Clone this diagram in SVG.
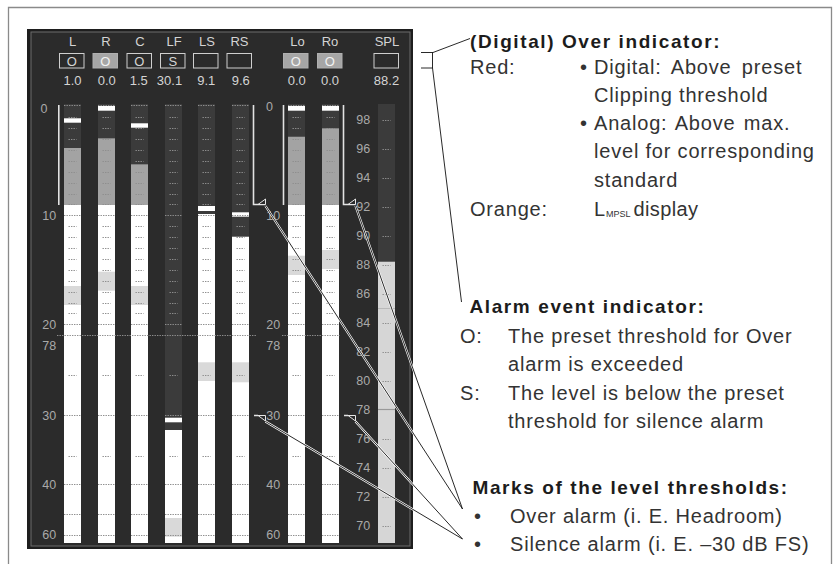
<svg xmlns="http://www.w3.org/2000/svg" width="839" height="564" viewBox="0 0 839 564">
<style>
.pt{font-family:"Liberation Sans",Arial,sans-serif;font-size:13px;fill:#d4d4d4;text-anchor:middle}
.sc{font-family:"Liberation Sans",Arial,sans-serif;font-size:12.5px;fill:#a9a9a9;text-anchor:middle}
.box{fill:none;stroke:#cfcfcf;stroke-width:1}
.boxf{fill:#a6a6a6;stroke:#b0b0b0;stroke-width:1}
.bxt{fill:#f2f2f2}
.dk{fill:#3b3b3b}
.gy{fill:#a3a3a3}
.wh{fill:#ffffff}
.hl{fill:#d9d9d9}
.sp{fill:#d6d6d6}
.tk{fill:none;stroke:#8e8e8e;stroke-width:1;stroke-dasharray:1.4 1.1}
.br{fill:none;stroke:#e2e2e2;stroke-width:1.6}
.mk{fill:#2b2b2b;stroke:#e6e6e6;stroke-width:1}
.lk{fill:none;stroke:#111;stroke-width:0.9}
.halo{fill:none;stroke:#ffffff;stroke-width:2.2}
.hd{font-family:"Liberation Sans",Arial,sans-serif;font-size:19px;font-weight:bold;fill:#1c1c1c;letter-spacing:1.6px}
.bd{font-family:"Liberation Sans",Arial,sans-serif;font-size:20px;fill:#333;letter-spacing:0.8px}
</style>
<defs>
<g id="tk">
<path class="tk" d="M0,105.5h17M0,215.5h17M0,324.5h17M0,415.5h17M0,484.5h17M0,514.5h17M0,535.5h17"/>
<path class="tk" d="M4.5,117.5h8M4.5,128.5h8M4.5,139.5h8M4.5,150.5h8M4.5,161.5h8M4.5,172.5h8M4.5,183.5h8M4.5,194.5h8M4.5,204.5h8M4.5,226.5h8M4.5,237.5h8M4.5,248.5h8M4.5,259.5h8M4.5,270.5h8M4.5,281.5h8M4.5,292.5h8M4.5,303.5h8M4.5,313.5h8M4.5,375.5h8M4.5,456.5h8"/>
</g>
</defs>

<path id="frame" d="M8.5,564V7.5H831.5V564" fill="none" stroke="#8a8a8a" stroke-width="1.3"/>

<g id="panel">
<rect x="27" y="29" width="386" height="520" fill="#1e1e1e"/>
<rect x="31" y="32" width="379" height="514" fill="#2b2b2b" stroke="#6c6c6c" stroke-width="1"/>
<g id="scale-left">
<text class="sc" x="44" y="113">0</text>
<text class="sc" x="49.3" y="220">10</text>
<text class="sc" x="49.3" y="329">20</text>
<text class="sc" x="49.3" y="350">78</text>
<text class="sc" x="49.3" y="420">30</text>
<text class="sc" x="49.3" y="488.5">40</text>
<text class="sc" x="49.3" y="539">60</text>
</g>
<g id="scale-mid">
<text class="sc" x="269.5" y="111">0</text>
<text class="sc" x="273.3" y="220">10</text>
<text class="sc" x="273.3" y="329">20</text>
<text class="sc" x="273.3" y="350">78</text>
<text class="sc" x="273.3" y="420">30</text>
<text class="sc" x="273.3" y="488.5">40</text>
<text class="sc" x="273.3" y="539">60</text>
</g>
<g id="scale-spl">
<text class="sc" x="363.3" y="124">98</text>
<text class="sc" x="363.3" y="153">96</text>
<text class="sc" x="363.3" y="182">94</text>
<text class="sc" x="363.3" y="211">92</text>
<text class="sc" x="363.3" y="240">90</text>
<text class="sc" x="363.3" y="269">88</text>
<text class="sc" x="363.3" y="298">86</text>
<text class="sc" x="363.3" y="327">84</text>
<text class="sc" x="363.3" y="356">82</text>
<text class="sc" x="363.3" y="385">80</text>
<text class="sc" x="363.3" y="414">78</text>
<text class="sc" x="363.3" y="443">76</text>
<text class="sc" x="363.3" y="472">74</text>
<text class="sc" x="363.3" y="501">72</text>
<text class="sc" x="363.3" y="530">70</text>
</g>
</g>

<g id="ch-L">
<text class="pt" x="72.5" y="46">L</text>
<rect class="box" x="59.5" y="53.5" width="24.5" height="14.5"/>
<text class="pt" x="71.8" y="65.5">O</text>
<text class="pt" x="72.5" y="85">1.0</text>
<rect class="dk" x="64" y="104" width="17" height="44"/>
<rect class="gy" x="64" y="148" width="17" height="57"/>
<rect class="wh" x="64" y="205" width="17" height="338"/>
<rect class="hl" x="64" y="286" width="17" height="19"/>
<rect class="wh" x="64" y="118.3" width="17" height="4.4"/>
<use href="#tk" x="64"/>
</g>

<g id="ch-R">
<text class="pt" x="106" y="46">R</text>
<rect class="boxf" x="93" y="53.5" width="24.5" height="14.5"/>
<text class="pt bxt" x="105.3" y="65.5">O</text>
<text class="pt" x="106.8" y="85">0.0</text>
<rect class="dk" x="98" y="104" width="17" height="34.3"/>
<rect class="gy" x="98" y="138.3" width="17" height="66.7"/>
<rect class="wh" x="98" y="205" width="17" height="338"/>
<rect class="hl" x="98" y="271.7" width="17" height="19"/>
<rect class="wh" x="98" y="106" width="17" height="4.7"/>
<use href="#tk" x="98"/>
</g>

<g id="ch-C">
<text class="pt" x="140" y="46">C</text>
<rect class="box" x="127" y="53.5" width="24.5" height="14.5"/>
<text class="pt" x="139.3" y="65.5">O</text>
<text class="pt" x="138.8" y="85">1.5</text>
<rect class="dk" x="131" y="104" width="17" height="60.3"/>
<rect class="gy" x="131" y="164.3" width="17" height="40.7"/>
<rect class="wh" x="131" y="205" width="17" height="338"/>
<rect class="hl" x="131" y="286" width="17" height="19"/>
<rect class="wh" x="131" y="123.3" width="17" height="4.4"/>
<use href="#tk" x="131"/>
</g>

<g id="ch-LF">
<text class="pt" x="174" y="46">LF</text>
<rect class="box" x="160.5" y="53.5" width="24.5" height="14.5"/>
<text class="pt" x="172.8" y="65.5">S</text>
<text class="pt" x="169.5" y="85">30.1</text>
<rect class="dk" x="165" y="104" width="17" height="326"/>
<rect class="wh" x="165" y="430" width="17" height="113"/>
<rect class="hl" x="165" y="518" width="17" height="18.7"/>
<rect class="wh" x="165" y="417.7" width="17" height="4.6"/>
<use href="#tk" x="165"/>
</g>

<g id="ch-LS">
<text class="pt" x="207" y="46">LS</text>
<rect class="box" x="193.5" y="53.5" width="24.5" height="14.5"/>
<text class="pt" x="206.3" y="85">9.1</text>
<rect class="dk" x="198" y="104" width="17" height="110"/>
<rect class="wh" x="198" y="214" width="17" height="329"/>
<rect class="hl" x="198" y="362.3" width="17" height="18.7"/>
<rect class="wh" x="198" y="206" width="17" height="5"/>
<use href="#tk" x="198"/>
</g>

<g id="ch-RS">
<text class="pt" x="239.5" y="46">RS</text>
<rect class="box" x="227" y="53.5" width="24.5" height="14.5"/>
<text class="pt" x="240.8" y="85">9.6</text>
<rect class="dk" x="232" y="104" width="17" height="132.7"/>
<rect class="wh" x="232" y="236.7" width="17" height="306.3"/>
<rect class="hl" x="232" y="362.3" width="17" height="20"/>
<rect class="wh" x="232" y="212.3" width="17" height="4.4"/>
<use href="#tk" x="232"/>
</g>

<g id="ch-Lo">
<text class="pt" x="297.5" y="46">Lo</text>
<rect class="boxf" x="283.5" y="53.5" width="24.5" height="14.5"/>
<text class="pt bxt" x="295.8" y="65.5">O</text>
<text class="pt" x="296.8" y="85">0.0</text>
<rect class="dk" x="288" y="104" width="17" height="32.7"/>
<rect class="gy" x="288" y="136.7" width="17" height="68.3"/>
<rect class="wh" x="288" y="205" width="17" height="338"/>
<rect class="hl" x="288" y="255.7" width="17" height="19.3"/>
<rect class="wh" x="288" y="106" width="17" height="4.7"/>
<use href="#tk" x="288"/>
</g>

<g id="ch-Ro">
<text class="pt" x="330" y="46">Ro</text>
<rect class="boxf" x="317.5" y="53.5" width="24.5" height="14.5"/>
<text class="pt bxt" x="329.8" y="65.5">O</text>
<text class="pt" x="330" y="85">0.0</text>
<rect class="dk" x="322" y="104" width="17" height="24.3"/>
<rect class="gy" x="322" y="128.3" width="17" height="76.7"/>
<rect class="wh" x="322" y="205" width="17" height="338"/>
<rect class="hl" x="322" y="250" width="17" height="19"/>
<rect class="wh" x="322" y="106" width="17" height="4.7"/>
<use href="#tk" x="322"/>
</g>

<g id="ch-SPL">
<text class="pt" x="387" y="46">SPL</text>
<rect class="box" x="374" y="53.5" width="24.5" height="14.5"/>
<text class="pt" x="386.5" y="85">88.2</text>
<rect class="dk" x="378" y="104" width="17" height="157.7"/>
<rect class="sp" x="378" y="261.7" width="17" height="281.3"/>
<path d="M378,308.5h17" stroke="#b9b9b9" stroke-width="1"/>
<path d="M378,409.5h17" stroke="#999" stroke-width="1.2"/>
<path class="tk" d="M382.5,120.5h8M382.5,149.5h8M382.5,178.5h8M382.5,207.5h8M382.5,236.5h8M382.5,265.5h8M382.5,294.5h8M382.5,323.5h8M382.5,352.5h8M382.5,381.5h8M382.5,439.5h8M382.5,468.5h8M382.5,497.5h8M382.5,526.5h8"/>
</g>

<g id="thresholds">
<path class="tk" d="M57,335.5H256M282,335.5H340"/>
<path class="br" d="M58.8,105V205M253.5,105V204.5H265.5M283.5,105V205M343.5,105V204.5H355.5"/>
<polygon class="mk" points="258,204.5 265.5,204.5 265.5,199"/>
<polygon class="mk" points="348,204.5 355.5,204.5 355.5,199"/>
<path class="br" d="M254,415.5H258M344,415.5H348" stroke-width="1"/>
<polygon class="mk" points="258,415.5 265.5,415.5 265.5,421"/>
<polygon class="mk" points="348,415.5 355.5,415.5 355.5,421"/>
</g>

<g id="connectors">
<path class="halo" d="M265.5,206L462.5,509M355.5,206L462.5,509M265.5,421.5L462.5,539M355.5,421.5L462.5,539"/>
<path class="lk" d="M265.5,206L462.5,509M355.5,206L462.5,509M265.5,421.5L462.5,539M355.5,421.5L462.5,539"/>
<path class="lk" d="M421,52.5H433M432.5,52.5V68M421,68H432.5M433,52.5L470,38.5M432.5,68L461.5,302"/>
</g>

<g id="over-indicator">
<text class="hd" x="470" y="47.5">(Digital) Over indicator:</text>
<text class="bd" x="470" y="73.5">Red:</text>
<text class="bd" x="580" y="73.5">•</text>
<text class="bd" x="594" y="73.5" letter-spacing="1.3" word-spacing="4">Digital: Above preset</text>
<text class="bd" x="594" y="101.8">Clipping threshold</text>
<text class="bd" x="580" y="130">•</text>
<text class="bd" x="594" y="130" word-spacing="2">Analog: Above max.</text>
<text class="bd" x="594" y="158.3">level for corresponding</text>
<text class="bd" x="594" y="186.7">standard</text>
<text class="bd" x="470" y="216">Orange:</text>
<text class="bd" x="594" y="216">L<tspan font-size="9" letter-spacing="0" dy="1">MPSL</tspan><tspan dx="3" dy="-1" letter-spacing="0.4">display</tspan></text>
</g>

<g id="alarm-event">
<text class="hd" x="469.5" y="312.5">Alarm event indicator:</text>
<text class="bd" x="460" y="342.5">O:</text>
<text class="bd" x="508" y="342.5">The preset threshold for Over</text>
<text class="bd" x="508" y="371">alarm is exceeded</text>
<text class="bd" x="460" y="399.5">S:</text>
<text class="bd" x="508" y="399.5">The level is below the preset</text>
<text class="bd" x="508" y="428">threshold for silence alarm</text>
</g>

<g id="level-marks">
<text class="hd" x="472.5" y="494">Marks of the level thresholds:</text>
<text class="bd" x="474" y="522.5">•</text>
<text class="bd" x="510" y="522.5">Over alarm (i. E. Headroom)</text>
<text class="bd" x="474" y="550.5">•</text>
<text class="bd" x="510" y="550.5">Silence alarm (i. E. –30 dB FS)</text>
</g>
</svg>
